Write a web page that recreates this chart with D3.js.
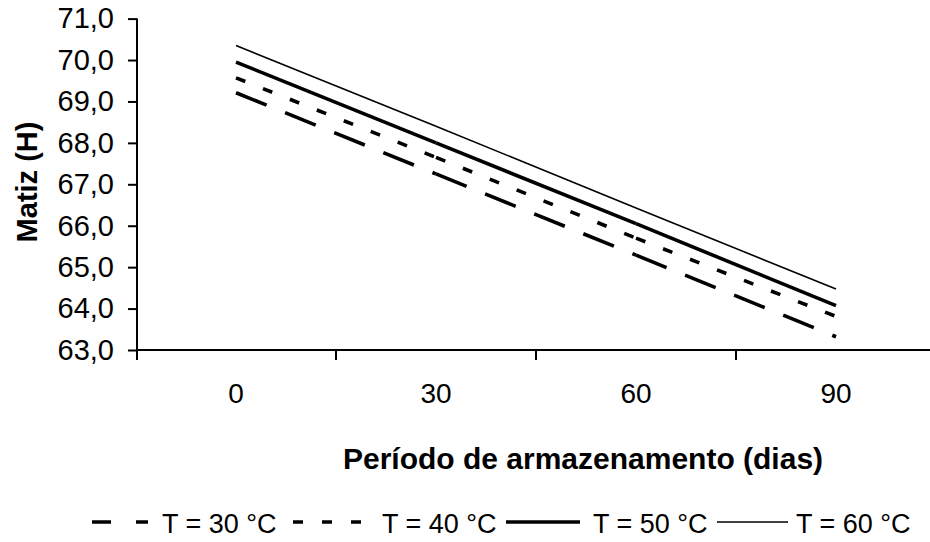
<!DOCTYPE html>
<html>
<head>
<meta charset="utf-8">
<script src="https://cdn.jsdelivr.net/npm/d3@7"></script>
<style>
  body { margin: 0; background: #fff; }
  text { font-family: "Liberation Sans", Arial, sans-serif; fill: #000; }
</style>
</head>
<body>
<div id="chart"></div>
<script>
// Matiz (H) over storage period, one line per temperature
const days = ["0", "30", "60", "90"];
const yTicks = [63, 64, 65, 66, 67, 68, 69, 70, 71];
const seriesNames = ["T = 30 °C", "T = 40 °C", "T = 50 °C", "T = 60 °C"];
const t30 = [69.21, 67.25, 65.29, 63.32];
const t40 = [69.57, 67.65, 65.70, 63.81];
const t50 = [69.95, 68.00, 66.05, 64.07];
const t60 = [70.35, 68.40, 66.43, 64.47];

const width = 930;
const height = 542;

const styles = [
    { dash: "33,20", width: 3.6, legendDash: "19,25", legend: [92, 148, 162] },
    { dash: "10,19", width: 3.6, legendDash: "10,19", legend: [293, 361, 382] },
    { dash: null, width: 3.6, legendDash: null, legend: [506, 580, 593] },
    { dash: null, width: 1.6, legendDash: null, legend: [717, 788, 796] }
];
const series = [t30, t40, t50, t60].map((values, i) => ({ name: seriesNames[i], values, style: styles[i] }));

const svg = d3.select("#chart").append("svg")
    .attr("width", width)
    .attr("height", height);

const x = d3.scaleBand()
    .domain(days)
    .range([136, 936]);

const y = d3.scaleLinear()
    .domain([63, 71])
    .range([350, 18.6]);

// y axis
const yAxis = svg.append("g")
    .attr("transform", "translate(137,0)")
    .call(d3.axisLeft(y)
        .tickValues(yTicks)
        .tickSize(9)
        .tickPadding(14)
        .tickFormat(d => d3.format(".1f")(d).replace(".", ",")));
yAxis.select(".domain").attr("d", `M0,${y(71)}V${y(63) + 10}`);
yAxis.selectAll(".tick text").style("font-size", "29px");

// x axis, ticks sit on category boundaries
const xAxis = svg.append("g")
    .attr("transform", "translate(0,350)")
    .call(d3.axisBottom(x).tickSize(0).tickPadding(33));
xAxis.select(".domain").attr("d", `M137,0H${width}`);
xAxis.selectAll(".tick text").style("font-size", "28px");
xAxis.selectAll(".boundary")
    .data(days)
    .enter()
    .append("line")
    .attr("class", "boundary")
    .attr("x1", d => x(d) + x.bandwidth())
    .attr("x2", d => x(d) + x.bandwidth())
    .attr("y1", 0)
    .attr("y2", 10)
    .attr("stroke", "#000");

svg.selectAll(".domain, .tick line, .boundary")
    .attr("stroke", "#000")
    .attr("stroke-width", 2);

svg.selectAll(".tick text")
    .style("font-family", "'Liberation Sans', Arial, sans-serif")
    .attr("fill", "#000");

// lines, each segment drawn on its own so the dash pattern restarts at every point
const cx = d => x(d) + x.bandwidth() / 2;
series.forEach(s => {
    const pts = s.values.map((v, i) => [cx(days[i]), y(v)]);
    const segs = d3.pairs(pts);
    svg.append("g").selectAll("path")
        .data(segs)
        .enter()
        .append("path")
        .attr("d", d => d3.line()(d))
        .attr("fill", "none")
        .attr("stroke", "#000")
        .attr("stroke-width", s.style.width)
        .attr("stroke-dasharray", s.style.dash);
});

// axis titles
svg.append("text")
    .attr("transform", "translate(37,182) rotate(-90)")
    .attr("text-anchor", "middle")
    .style("font-size", "29px")
    .style("font-weight", "bold")
    .text("Matiz (H)");

svg.append("text")
    .attr("x", 583)
    .attr("y", 469)
    .attr("text-anchor", "middle")
    .style("font-size", "30px")
    .style("font-weight", "bold")
    .text("Período de armazenamento (dias)");

// legend
const legend = svg.append("g");
series.forEach(s => {
    const [x1, x2, tx] = s.style.legend;
    legend.append("line")
        .attr("x1", x1)
        .attr("x2", x2)
        .attr("y1", 522)
        .attr("y2", 522)
        .attr("stroke", "#000")
        .attr("stroke-width", s.style.width)
        .attr("stroke-dasharray", s.style.legendDash);
    legend.append("text")
        .attr("x", tx)
        .attr("y", 533)
        .style("font-size", "27px")
        .text(s.name);
});
</script>
</body>
</html>
